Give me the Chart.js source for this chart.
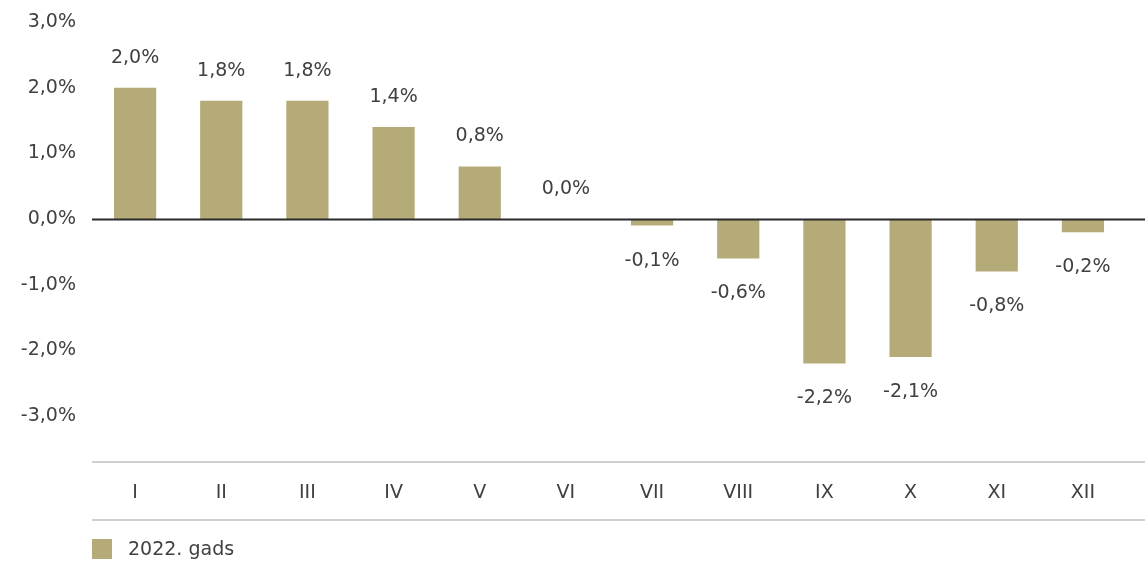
<!DOCTYPE html>
<html>
<head>
<meta charset="utf-8">
<script src="https://cdn.jsdelivr.net/npm/chart.js@4/dist/chart.umd.min.js"></script>
<style>
  html, body { margin: 0; padding: 0; background: #ffffff; }
  #wrap { width: 1145px; height: 563px; position: relative; }
</style>
</head>
<body>
<div id="wrap"><canvas id="c"></canvas></div>
<script>
const categories = ['I', 'II', 'III', 'IV', 'V', 'VI', 'VII', 'VIII', 'IX', 'X', 'XI', 'XII'];
const values2022 = [2.0, 1.8, 1.8, 1.4, 0.8, 0.0, -0.1, -0.6, -2.2, -2.1, -0.8, -0.2];
const seriesLabel = '2022. gads';
const yTickValues = [3, 2, 1, 0, -1, -2, -3];

const FONT = '"DejaVu Sans", sans-serif';
const TEXT = '#404040';
const BAR = '#b5ab78';

function fmt(v) {
  return v.toFixed(1).replace('.', ',') + '%';
}

const decor = {
  id: 'decor',
  afterDatasetsDraw(chart) {
    const ctx = chart.ctx;
    const area = chart.chartArea;
    const y = chart.scales.y;
    const x = chart.scales.x;
    const W = chart.width;
    ctx.save();
    // zero line
    const z = Math.round(y.getPixelForValue(0)) + 0.5;
    ctx.strokeStyle = '#2a2a2a';
    ctx.lineWidth = 2;
    ctx.beginPath(); ctx.moveTo(area.left, z); ctx.lineTo(W, z); ctx.stroke();
    // axis lines
    ctx.strokeStyle = '#cfcfcf';
    ctx.lineWidth = 2;
    ctx.beginPath(); ctx.moveTo(area.left, area.bottom); ctx.lineTo(W, area.bottom); ctx.stroke();
    ctx.beginPath(); ctx.moveTo(area.left, x.bottom); ctx.lineTo(W, x.bottom); ctx.stroke();
    // value labels
    ctx.font = '19px ' + FONT;
    ctx.fillStyle = TEXT;
    ctx.textAlign = 'center';
    ctx.textBaseline = 'middle';
    const meta = chart.getDatasetMeta(0);
    const data = chart.data.datasets[0].data;
    meta.data.forEach((el, i) => {
      const v = data[i];
      const ty = v >= 0 ? el.y - 30 : el.y + 35;
      ctx.fillText(fmt(v), el.x, ty);
    });
    // legend
    const ds = chart.data.datasets[0];
    ctx.fillStyle = ds.backgroundColor;
    ctx.fillRect(area.left, 539, 20, 20);
    ctx.fillStyle = TEXT;
    ctx.textAlign = 'left';
    ctx.fillText(ds.label, area.left + 36, 550);
    ctx.restore();
  }
};

new Chart(document.getElementById('c'), {
  type: 'bar',
  data: {
    labels: categories,
    datasets: [{
      label: seriesLabel,
      data: values2022,
      backgroundColor: BAR,
      borderWidth: 0,
      categoryPercentage: 1.0,
      barPercentage: 0.49
    }]
  },
  options: {
    responsive: true,
    maintainAspectRatio: false,
    animation: false,
    layout: { padding: { top: 22, right: 19, bottom: 43, left: 0 } },
    plugins: {
      legend: { display: false },
      tooltip: { enabled: false }
    },
    scales: {
      x: {
        grid: { display: false, drawTicks: false },
        border: { display: false },
        ticks: { color: TEXT, font: { family: FONT, size: 19 }, padding: 20 },
        afterFit(scale) { scale.height = 58; scale.paddingLeft = 0; scale.paddingRight = 0; }
      },
      y: {
        min: -3.7,
        max: 3.0,
        grid: { display: false, drawTicks: false },
        border: { display: false },
        afterBuildTicks(scale) {
          scale.ticks = yTickValues.map(v => ({ value: v }));
        },
        ticks: {
          color: TEXT,
          font: { family: FONT, size: 19 },
          padding: 16,
          callback: (v) => fmt(v)
        },
        afterFit(scale) { scale.width = 92; scale.paddingTop = 0; scale.paddingBottom = 0; }
      }
    }
  },
  plugins: [decor]
});
</script>
</body>
</html>
